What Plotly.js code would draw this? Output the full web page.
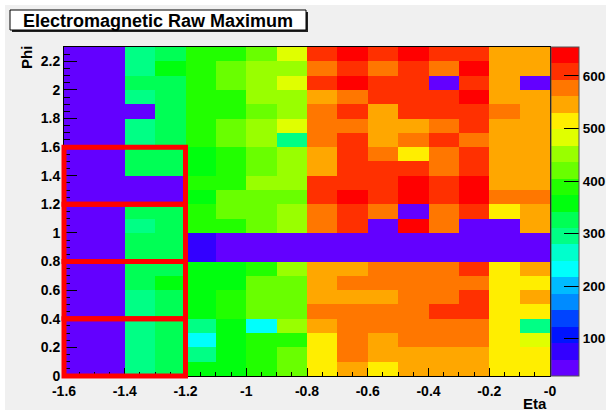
<!DOCTYPE html>
<html>
<head>
<meta charset="utf-8">
<script src="https://cdn.plot.ly/plotly-3.0.1.min.js"></script>
<style>
  html, body { margin: 0; padding: 0; background: #ffffff; }
  #chart { width: 606px; height: 415px; }
</style>
</head>
<body>
<div id="chart"></div>
<script>
// ---- Data ----
const chartTitle = 'Electromagnetic Raw Maximum';
const xTitle = 'Eta';
const yTitle = 'Phi';

// bin centres
const etaCenters = [-1.55, -1.45, -1.35, -1.25, -1.15, -1.05, -0.95, -0.85,
                    -0.75, -0.65, -0.55, -0.45, -0.35, -0.25, -0.15, -0.05];
const phiCenters = [0.05, 0.15, 0.25, 0.35, 0.45, 0.55, 0.65, 0.75, 0.85, 0.95,
                    1.05, 1.15, 1.25, 1.35, 1.45, 1.55, 1.65, 1.75, 1.85, 1.95,
                    2.05, 2.15, 2.25];

// one row of cell values (eta -1.6 -> 0) per phi bin
const phi00 = [45,45,295,326,358,358,389,420,514,546,514,546,546,546,514,514];
const phi01 = [45,45,295,326,295,358,389,420,514,577,546,546,546,546,514,514];
const phi02 = [45,45,295,326,232,358,389,389,514,577,546,577,577,577,514,483];
const phi03 = [45,45,295,326,295,358,232,452,546,577,577,577,577,577,514,295];
const phi04 = [45,45,295,326,358,389,420,420,577,577,577,577,608,608,514,514];
const phi05 = [45,45,295,326,358,389,420,420,546,546,546,577,577,608,514,546];
const phi06 = [45,45,326,358,358,358,420,420,546,577,577,577,577,577,514,514];
const phi07 = [45,45,326,326,358,358,389,452,546,546,577,577,577,608,514,546];
const phi08 = [45,45,326,326,76,45,45,45,45,45,45,45,45,45,45,45];
const phi09 = [45,45,326,326,76,45,45,45,45,45,45,45,45,45,45,45];
const phi10 = [45,45,295,326,389,389,420,452,577,608,45,640,577,45,45,546];
const phi11 = [45,45,326,326,389,420,420,452,577,608,577,45,577,608,514,546];
const phi12 = [45,45,45,45,358,420,420,420,608,640,608,640,608,640,577,577];
const phi13 = [45,45,45,45,389,389,452,452,608,608,608,640,608,640,546,546];
const phi14 = [45,45,326,326,358,389,420,452,546,608,608,608,577,608,546,546];
const phi15 = [45,45,326,326,358,389,420,452,546,608,577,514,577,608,546,546];
const phi16 = [45,45,295,326,389,420,452,295,577,608,546,577,608,577,546,546];
const phi17 = [45,45,295,326,389,420,452,483,577,577,546,546,577,608,546,546];
const phi18 = [45,45,45,326,389,389,420,452,577,608,546,608,608,608,577,546];
const phi19 = [45,45,295,326,389,389,452,452,546,577,608,608,608,640,546,546];
const phi20 = [45,45,326,326,389,420,452,483,608,640,608,608,45,608,546,45];
const phi21 = [45,45,295,358,389,420,452,452,577,608,577,608,577,640,546,546];
const phi22 = [45,45,295,326,389,389,420,483,608,640,608,640,608,608,546,546];

// colour scale limits
const zMin = 29;
const zMax = 655;

// tick labels
const xTickVals = [-1.6, -1.4, -1.2, -1.0, -0.8, -0.6, -0.4, -0.2, 0];
const xTickText = ['-1.6', '-1.4', '-1.2', '-1', '-0.8', '-0.6', '-0.4', '-0.2', '-0'];
const yTickVals = [0, 0.2, 0.4, 0.6, 0.8, 1.0, 1.2, 1.4, 1.6, 1.8, 2.0, 2.2];
const yTickText = ['0', '0.2', '0.4', '0.6', '0.8', '1', '1.2', '1.4', '1.6', '1.8', '2', '2.2'];
const zTickVals = [100, 200, 300, 400, 500, 600];
const zTickText = ['100', '200', '300', '400', '500', '600'];

// highlighted regions (red boxes)
const boxEtaLo = [-1.6, -1.6, -1.6, -1.6];
const boxEtaHi = [-1.2, -1.2, -1.2, -1.2];
const boxPhiLo = [0.0, 0.4, 0.8, 1.2];
const boxPhiHi = [0.4, 0.8, 1.2, 1.6];

// ---- Style ----
const paletteColors = ['#6300ff','#3300ff','#0014ff','#0044ff','#008bff','#00bbff',
  '#00fffc','#00ffcc','#00ff85','#00ff55','#00ff0e','#22ff00','#69ff00','#99ff00',
  '#e0ff00','#ffee00','#ffa700','#ff7700','#ff3000','#ff0000'];

const zRows = [phi00, phi01, phi02, phi03, phi04, phi05, phi06, phi07, phi08, phi09,
  phi10, phi11, phi12, phi13, phi14, phi15, phi16, phi17, phi18, phi19, phi20, phi21, phi22];

const nBands = paletteColors.length;
const colorscale = [];
paletteColors.forEach(function (c, k) {
  colorscale.push([k / nBands, c]);
  colorscale.push([(k + 1) / nBands, c]);
});

const W = 606, H = 415;
const M = { l: 64, r: 56, t: 47, b: 39, autoexpand: false };
const PW = W - M.l - M.r, PH = H - M.t - M.b;
const px2x = function (px) { return (px - M.l) / PW; };
const py2y = function (py) { return (H - M.b - py) / PH; };

const xRange = [-1.6, 0];
const yRange = [0, 2.3];
const xDom = function (v) { return (v - xRange[0]) / (xRange[1] - xRange[0]); };
const yDom = function (v) { return (v - yRange[0]) / (yRange[1] - yRange[0]); };

const FONT = 'Liberation Sans, Arial, Helvetica, sans-serif';
const tickFont = { family: FONT, size: 14, color: '#000', weight: 'bold' };

const trace = {
  type: 'heatmap',
  x: etaCenters,
  y: phiCenters,
  z: zRows,
  zmin: zMin,
  zmax: zMax,
  colorscale: colorscale,
  zsmooth: false,
  colorbar: {
    thickness: 28, thicknessmode: 'pixels',
    len: 1, lenmode: 'fraction',
    x: px2x(551), xanchor: 'left', xpad: 0,
    y: 0.5, yanchor: 'middle', ypad: 0,
    outlinewidth: 1, outlinecolor: '#555',
    tickmode: 'array', tickvals: zTickVals, ticktext: zTickText,
    ticks: 'inside', ticklen: 15, tickwidth: 1, tickcolor: '#000',
    tickfont: { family: FONT, size: 13.5, color: '#000', weight: 'bold' }
  }
};

const shapes = [
  // pad background
  { type: 'rect', xref: 'paper', yref: 'paper', layer: 'below',
    x0: px2x(5), x1: px2x(606), y0: py2y(5), y1: py2y(410),
    fillcolor: '#f0f0f0', line: { width: 0 } },
  // title box shadow + box
  { type: 'rect', xref: 'paper', yref: 'paper', layer: 'below',
    x0: px2x(12), x1: px2x(308), y0: py2y(12), y1: py2y(32),
    fillcolor: '#222', line: { width: 0 } },
  { type: 'rect', xref: 'paper', yref: 'paper', layer: 'below',
    x0: px2x(10), x1: px2x(306), y0: py2y(10), y1: py2y(30),
    fillcolor: '#ffffff', line: { width: 1, color: '#000' } }
];
for (let i = 0; i < boxEtaLo.length; i++) {
  shapes.push({
    type: 'rect', xref: 'x domain', yref: 'y domain', layer: 'above',
    x0: xDom(boxEtaLo[i]), x1: xDom(boxEtaHi[i]),
    y0: yDom(boxPhiLo[i]), y1: yDom(boxPhiHi[i]),
    line: { color: '#ff0000', width: 5 }, fillcolor: 'rgba(0,0,0,0)'
  });
}

const layout = {
  width: W, height: H,
  margin: M,
  paper_bgcolor: '#ffffff',
  plot_bgcolor: '#f0f0f0',
  font: { family: FONT, color: '#000' },
  title: {
    text: chartTitle,
    font: { family: FONT, size: 18, color: '#000', weight: 'bold' },
    xref: 'container', yref: 'container',
    x: 158 / W, xanchor: 'center',
    y: 1 - 20.5 / H, yanchor: 'middle'
  },
  xaxis: {
    range: xRange,
    tickmode: 'array', tickvals: xTickVals, ticktext: xTickText,
    ticks: 'inside', ticklen: 8, tickwidth: 1, tickcolor: '#000',
    minor: { tickmode: 'linear', tick0: 0, dtick: 0.05, ticks: 'inside', ticklen: 4, tickcolor: '#000', showgrid: false },
    tickfont: tickFont,
    ticklabelstandoff: 2,
    showgrid: false, zeroline: false,
    showline: true, linecolor: '#000', linewidth: 1, mirror: true
  },
  yaxis: {
    range: yRange,
    tickmode: 'array', tickvals: yTickVals, ticktext: yTickText,
    ticks: 'inside', ticklen: 13, tickwidth: 1, tickcolor: '#000',
    minor: { tickmode: 'linear', tick0: 0, dtick: 0.05, ticks: 'inside', ticklen: 6, tickcolor: '#000', showgrid: false },
    tickfont: tickFont,
    showgrid: false, zeroline: false,
    showline: true, linecolor: '#000', linewidth: 1, mirror: true
  },
  shapes: shapes,
  annotations: [
    { text: xTitle, xref: 'paper', yref: 'paper', showarrow: false,
      x: px2x(549), xanchor: 'right', y: py2y(404), yanchor: 'middle',
      font: { family: FONT, size: 15, color: '#000', weight: 'bold' } },
    { text: yTitle, xref: 'paper', yref: 'paper', showarrow: false, textangle: -90,
      x: px2x(26), xanchor: 'center', y: py2y(58), yanchor: 'middle',
      font: { family: FONT, size: 15, color: '#000', weight: 'bold' } }
  ]
};

Plotly.newPlot('chart', [trace], layout, { displayModeBar: false, staticPlot: true });
</script>
</body>
</html>
